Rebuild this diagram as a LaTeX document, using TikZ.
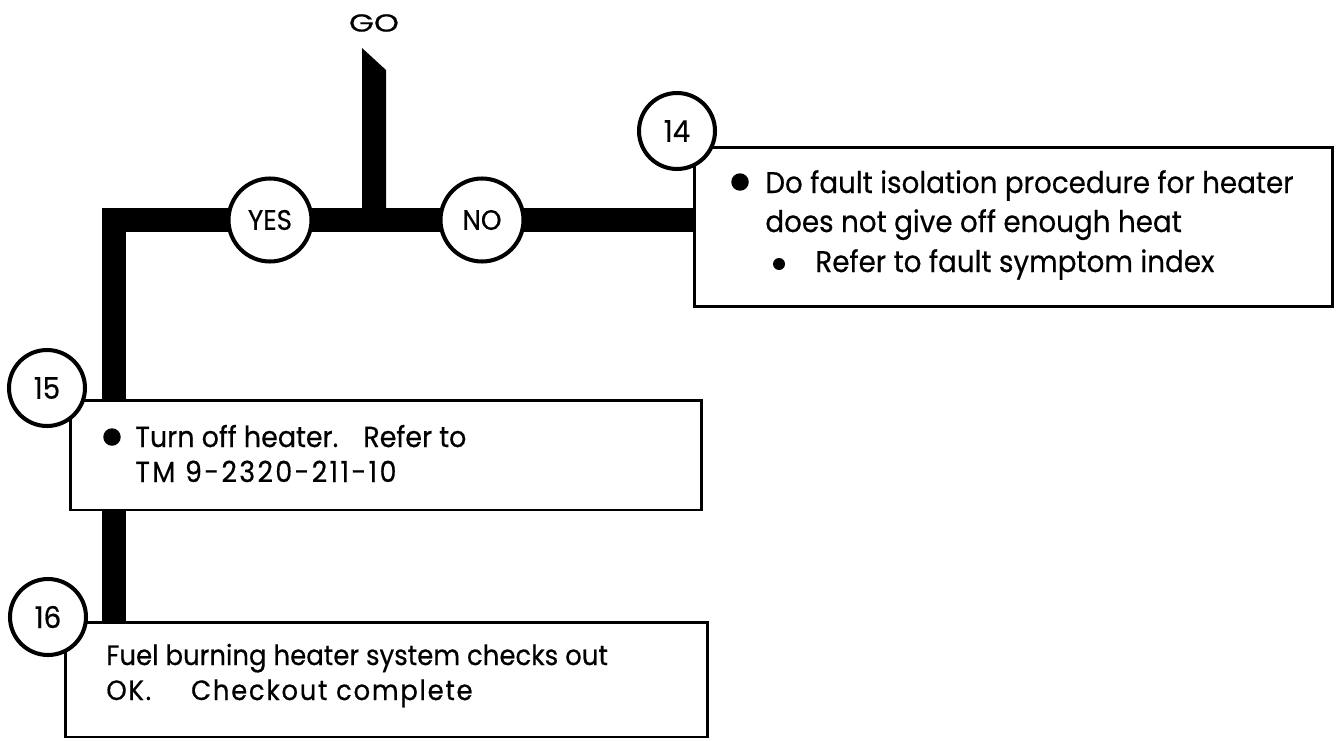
\documentclass[tikz,border=0pt]{standalone}
\usepackage{fontspec}
\setmainfont[FakeStretch=0.93,FakeBold=0.5]{Poppins}
\newfontfamily\goface[FakeStretch=1.3,FakeBold=0.5]{Poppins}
\usetikzlibrary{positioning,backgrounds}
\newcommand{\boxfont}[1]{\fontsize{#1}{20pt}\selectfont}

\begin{document}
\begin{tikzpicture}[x=0.02cm,y=-0.02cm,
  bar/.style={line width=0.48cm,miter limit=10},
  stepbox/.style={draw,line width=1.7pt,fill=white,inner sep=0pt},
  numcirc/.style={draw,circle,line width=2.3pt,fill=white,minimum size=1.52cm,inner sep=0pt,font=\fontsize{17pt}{18pt}\selectfont},
  choice/.style={draw,circle,line width=2.3pt,fill=white,minimum size=1.66cm,inner sep=0pt,font=\fontsize{16pt}{18pt}\selectfont},
  bigdot/.style={circle,fill,inner sep=0pt,minimum size=0.35cm},
  smalldot/.style={circle,fill,inner sep=0pt,minimum size=0.24cm},
  txt/.style={anchor=base west,inner sep=0pt}]
  \useasboundingbox (0,0) rectangle (1337,740);
  \node[font=\goface\fontsize{14pt}{16pt}\selectfont] (go) at (374,23) {GO};
  \fill (362,210) -- (362,48) -- (386,70) -- (386,210) -- cycle;
  \node[stepbox,minimum width=12.78cm,minimum height=3.2cm] (box14) at (1013.5,227) {};
  \node[stepbox,minimum width=12.64cm,minimum height=2.2cm] (box15) at (386,455) {};
  \node[stepbox,minimum width=12.86cm,minimum height=2.3cm] (box16) at (386.5,679.5) {};
  \coordinate (corner) at (114,220);
  \begin{scope}[on background layer]
    \draw[bar] (box14.west |- corner) -- (corner) -- (corner |- box16.north);
  \end{scope}
  \node[choice] (yes) at (270,220) {YES};
  \node[choice] (no) at (482,220) {NO};
  \node[numcirc] (n14) at (677,131) {14};
  \node[numcirc] (n15) at (47,388) {15};
  \node[numcirc] (n16) at (48,617) {16};
  \node[bigdot] (d14) at (740,182) {};
  \node[txt,font=\boxfont{17pt}] (t14a) at (765,193) {Do fault isolation procedure for heater};
  \node[txt,font=\boxfont{17pt}] (t14b) at (765,232) {does not give off enough heat};
  \node[smalldot] (d14b) at (779,264) {};
  \node[txt,font=\boxfont{17pt}] (t14c) at (815,272) {Refer to fault symptom index};
  \node[bigdot] (d15) at (112,437) {};
  \node[txt,font=\boxfont{16.5pt}] (t15a) at (135,447) {Turn off heater.\hspace{0.5cm}Refer to};
  \node[txt,font=\boxfont{16.5pt}\addfontfeature{LetterSpace=8}] (t15b) at (135,482) {TM 9-2320-211-10};
  \node[txt,font=\boxfont{15.9pt}] (t16a) at (106,665) {Fuel burning heater system checks out};
  \node[txt,font=\boxfont{15.9pt}\addfontfeature{LetterSpace=6}] (t16b) at (106,700) {OK.\hspace{0.8cm}Checkout complete};
\end{tikzpicture}
\end{document}
